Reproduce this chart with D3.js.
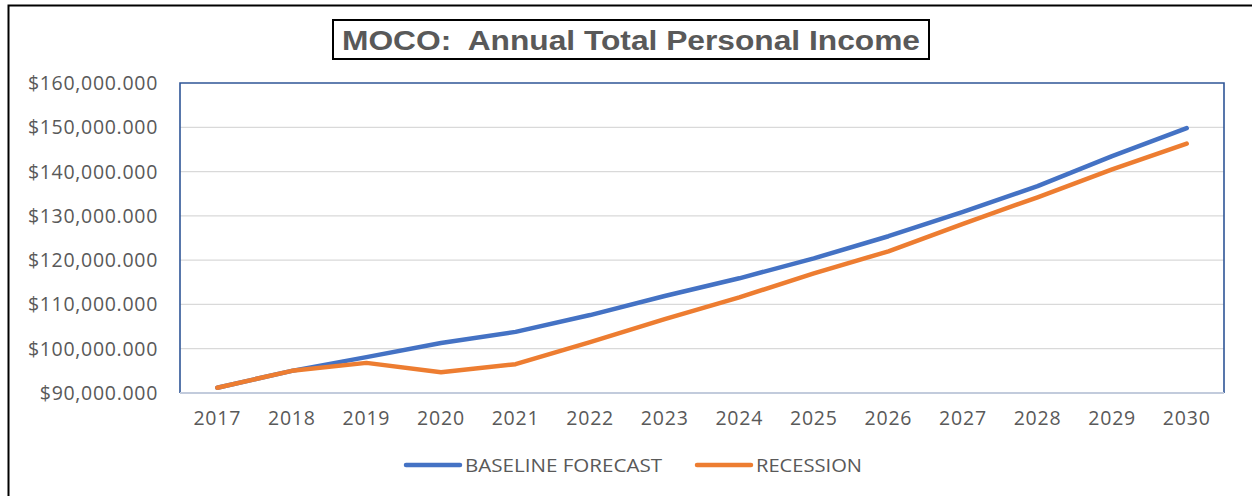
<!DOCTYPE html>
<html lang="en">
  <head>
    <meta charset="utf-8" />
    <title>MOCO: Annual Total Personal Income</title>
    <script src="https://d3js.org/d3.v7.min.js"></script>
    <style type="text/css">
      body {
        margin: 0;
        background: #fff;
      }
      text {
        font-family: "Open Sans", sans-serif;
        fill: #595959;
      }
      .grid line {
        stroke: #d9d9d9;
        stroke-width: 1.3;
      }
    </style>
  </head>
  <body>
    <script type="text/javascript">
      //Data
      var years = [2017, 2018, 2019, 2020, 2021, 2022, 2023, 2024, 2025, 2026, 2027, 2028, 2029, 2030];
      var baseline = [91200, 95000, 98100, 101300, 103800, 107600, 111900, 115900, 120400, 125400, 130900, 136700, 143500, 149800];
      var recession = [91200, 95000, 96800, 94700, 96500, 101500, 106700, 111600, 117000, 122000, 128200, 134200, 140500, 146300];
      var yTicks = [90000, 100000, 110000, 120000, 130000, 140000, 150000, 160000];
      var seriesNames = ["BASELINE FORECAST", "RECESSION"];
      var colors = ["#4472c4", "#ed7d31"];

      var w = 1252;
      var h = 496;
      var plot = { left: 180, top: 83, right: 1224, bottom: 393 };

      var svg = d3.select("body").append("svg").attr("width", w).attr("height", h);

      //Outer chart border
      svg.append("rect")
        .attr("x", 8.5).attr("y", 5.5)
        .attr("width", w + 10).attr("height", h + 10)
        .attr("fill", "none").attr("stroke", "#000").attr("stroke-width", 2);

      var xScale = d3.scaleBand()
        .domain(years)
        .range([plot.left, plot.right]);

      var yScale = d3.scaleLinear()
        .domain([90000, 160000])
        .range([plot.bottom, plot.top]);

      var fmt = function (d) {
        return "$" + d3.format(",")(d) + ".000";
      };

      //Gridlines
      svg.append("g")
        .attr("class", "grid")
        .selectAll("line")
        .data(yTicks.slice(1, -1))
        .enter()
        .append("line")
        .attr("x1", plot.left).attr("x2", plot.right)
        .attr("y1", function (d) { return yScale(d); })
        .attr("y2", function (d) { return yScale(d); });

      //Y labels
      svg.append("g")
        .selectAll("text")
        .data(yTicks)
        .enter()
        .append("text")
        .attr("x", 158)
        .attr("y", function (d) { return yScale(d); })
        .attr("dy", "0.36em")
        .attr("text-anchor", "end")
        .style("font-size", "19.5px")
        .style("letter-spacing", "0.7px")
        .text(fmt);

      //X labels
      svg.append("g")
        .selectAll("text")
        .data(years)
        .enter()
        .append("text")
        .attr("x", function (d) { return xScale(d) + xScale.bandwidth() / 2; })
        .attr("y", 425)
        .attr("text-anchor", "middle")
        .style("font-size", "19.5px")
        .style("letter-spacing", "0.8px")
        .text(function (d) { return d; });

      //Plot area frame
      svg.append("path")
        .attr("d", "M" + plot.left + "," + plot.bottom + "V" + plot.top + "H" + plot.right + "V" + plot.bottom)
        .attr("fill", "none").attr("stroke", "#2f5597").attr("stroke-width", 1.6);
      svg.append("line")
        .attr("x1", plot.left).attr("x2", plot.right)
        .attr("y1", plot.bottom).attr("y2", plot.bottom)
        .attr("stroke", "#c2cbdc").attr("stroke-width", 2.2);

      //Lines
      var line = d3.line()
        .x(function (d, i) { return xScale(years[i]) + xScale.bandwidth() / 2; })
        .y(function (d) { return yScale(d); });

      [baseline, recession].forEach(function (s, i) {
        svg.append("path")
          .datum(s)
          .attr("d", line)
          .attr("fill", "none")
          .attr("stroke", colors[i])
          .attr("stroke-width", 4.5)
          .attr("stroke-linecap", "round")
          .attr("stroke-linejoin", "round");
      });

      //Title
      svg.append("rect")
        .attr("x", 333).attr("y", 20)
        .attr("width", 596).attr("height", 39)
        .attr("fill", "#fff").attr("stroke", "#000").attr("stroke-width", 2);
      svg.append("text")
        .attr("x", 342).attr("y", 49.5)
        .attr("textLength", 578)
        .attr("lengthAdjust", "spacingAndGlyphs")
        .style("font-family", "'Liberation Sans', Arial, sans-serif")
        .style("font-weight", "bold")
        .style("font-size", "27px")
        .style("white-space", "pre")
        .text("MOCO:  Annual Total Personal Income");

      //Legend
      var legendX = [406, 697];
      var legendTextLen = [197, 106];
      var legend = svg.append("g")
        .selectAll("g")
        .data(seriesNames)
        .enter()
        .append("g")
        .attr("transform", function (d, i) { return "translate(" + legendX[i] + ",465)"; });
      legend.append("line")
        .attr("x1", 0).attr("x2", 54)
        .attr("stroke", function (d, i) { return colors[i]; })
        .attr("stroke-width", 4.5)
        .attr("stroke-linecap", "round");
      legend.append("text")
        .attr("x", 59)
        .attr("dy", "0.36em")
        .attr("textLength", function (d, i) { return legendTextLen[i]; })
        .attr("lengthAdjust", "spacingAndGlyphs")
        .style("font-size", "19px")
        .text(function (d) { return d; });
    </script>
  </body>
</html>
